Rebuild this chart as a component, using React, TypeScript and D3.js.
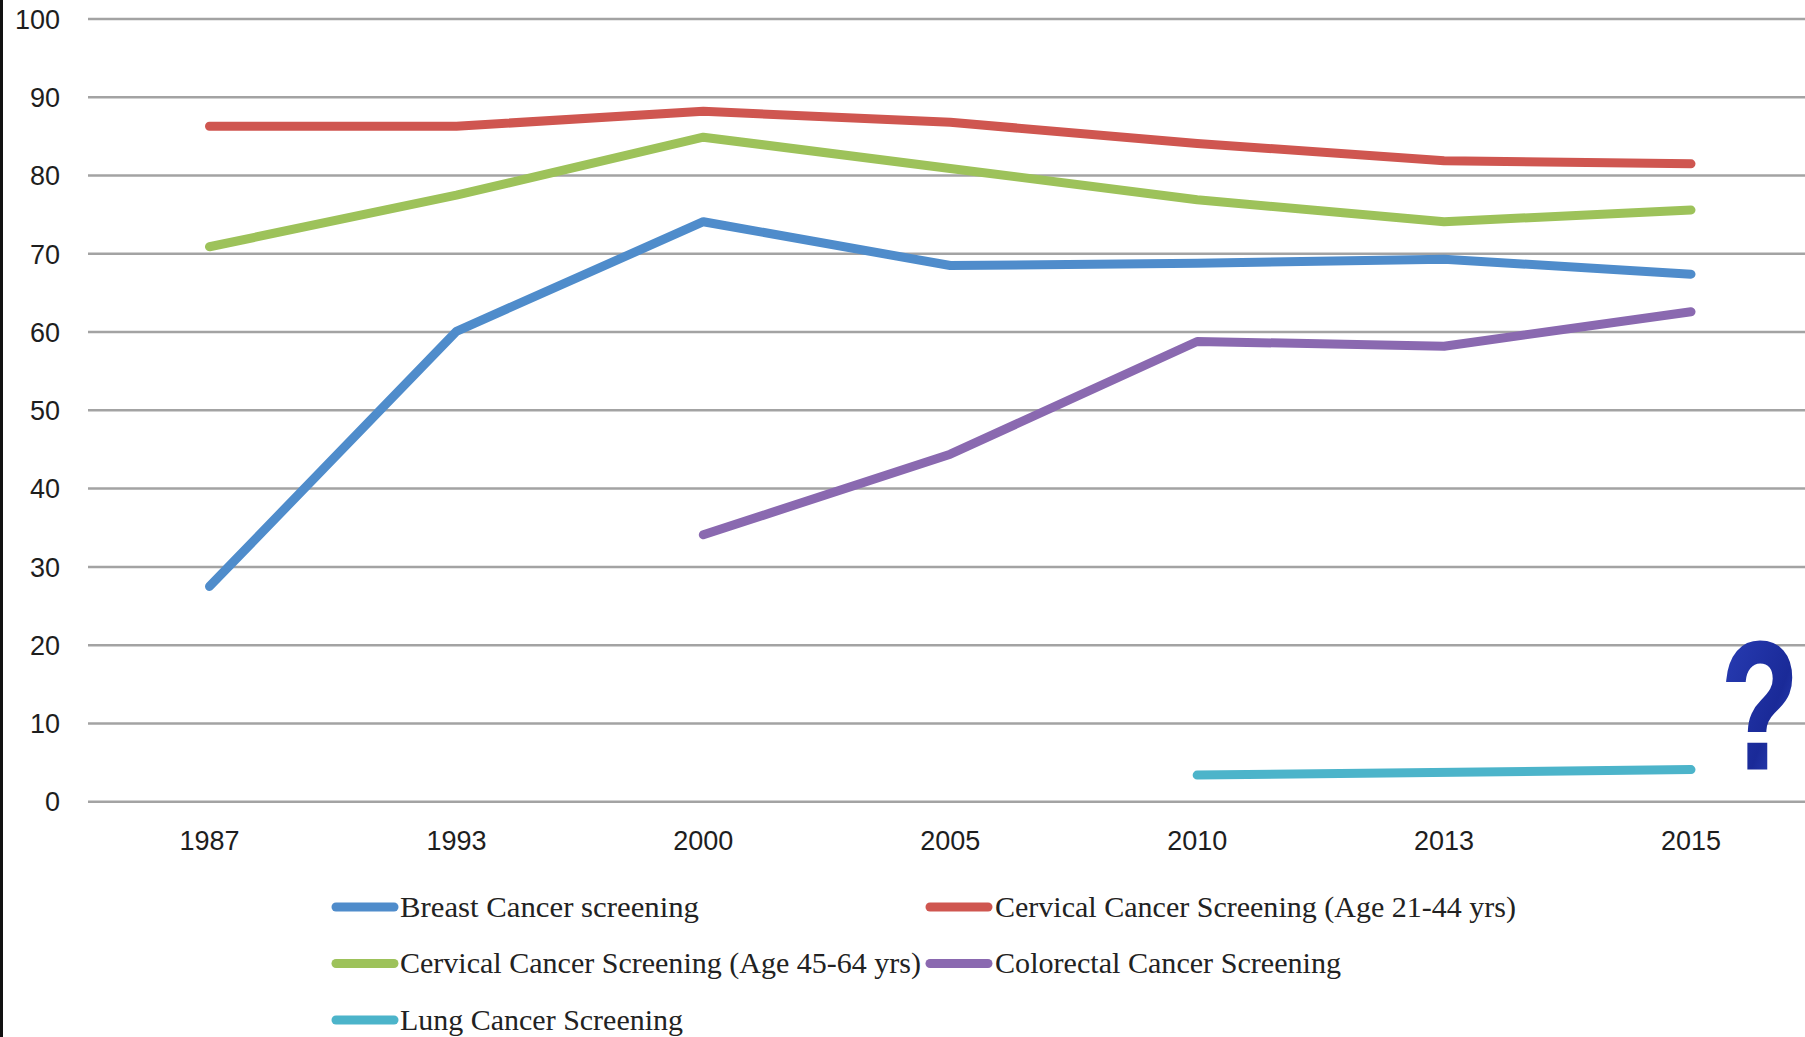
import React from "react";
import * as d3 from "d3";

const years = ["1987", "1993", "2000", "2005", "2010", "2013", "2015"];
const yTicks = [0, 10, 20, 30, 40, 50, 60, 70, 80, 90, 100];

const breast = [27.5, 60.1, 74.1, 68.5, 68.8, 69.3, 67.4];
const cervical2144 = [86.3, 86.3, 88.2, 86.8, 84.1, 81.9, 81.5];
const cervical4564 = [70.9, 77.5, 84.9, 80.9, 76.9, 74.1, 75.6];
const colorectal = [null, null, 34.1, 44.4, 58.8, 58.2, 62.6];
const lung = [null, null, null, null, 3.4, null, 4.1];

const seriesNames = [
  "Breast Cancer screening",
  "Cervical Cancer Screening (Age 21-44 yrs)",
  "Cervical Cancer Screening (Age 45-64 yrs)",
  "Colorectal Cancer Screening",
  "Lung Cancer Screening",
];
const seriesColors = ["#4f8ccb", "#cf5650", "#9dc25a", "#8a69b0", "#4cb4ca"];
const seriesValues = [breast, cervical2144, cervical4564, colorectal, lung];

const W = 1805;
const H = 1037;

export default function App() {
  const x = d3.scalePoint<string>().domain(years).range([209.5, 1691]);
  const y = d3.scaleLinear().domain([0, 100]).range([801.7, 19]);

  const line = d3
    .line<{ yr: string; v: number }>()
    .x((d) => x(d.yr) as number)
    .y((d) => y(d.v));

  const legendPos = [
    { lx: 336, tx: 400, y: 907, w: 299 },
    { lx: 930, tx: 995, y: 907, w: 521 },
    { lx: 336, tx: 400, y: 963.5, w: 521 },
    { lx: 930, tx: 995, y: 963.5, w: 346 },
    { lx: 336, tx: 400, y: 1020, w: 283 },
  ];

  return (
    <svg
      width={W}
      height={H}
      style={{ position: "absolute", left: 0, top: 0, background: "#fff" }}
    >
      <defs>
        <linearGradient id="qgrad" x1="0" y1="0" x2="1" y2="1">
          <stop offset="0%" stopColor="#2a3fb8" />
          <stop offset="60%" stopColor="#1a2a98" />
          <stop offset="100%" stopColor="#3a55d0" />
        </linearGradient>
      </defs>
      <rect x={0} y={0} width={W} height={H} fill="#fff" />
      <rect x={0} y={0} width={3} height={H} fill="#111" />
      {yTicks.map((t) => (
        <g key={t}>
          <line
            x1={88}
            x2={W}
            y1={y(t)}
            y2={y(t)}
            stroke="#a3a3a3"
            strokeWidth={2.5}
          />
          <text
            x={60}
            y={y(t)}
            dy="0.36em"
            textAnchor="end"
            fontFamily="Liberation Sans, Arial, sans-serif"
            fontSize={27}
            fill="#1e1e1e"
          >
            {t}
          </text>
        </g>
      ))}
      {years.map((yr) => (
        <text
          key={yr}
          x={x(yr)}
          y={840}
          dy="0.36em"
          textAnchor="middle"
          fontFamily="Liberation Sans, Arial, sans-serif"
          fontSize={27}
          fill="#1e1e1e"
        >
          {yr}
        </text>
      ))}
      {seriesValues.map((vals, i) => {
        const pts = vals
          .map((v, j) => ({ yr: years[j], v }))
          .filter((d) => d.v !== null) as { yr: string; v: number }[];
        return (
          <path
            key={i}
            d={line(pts) || ""}
            fill="none"
            stroke={seriesColors[i]}
            strokeWidth={9}
            strokeLinecap="round"
            strokeLinejoin="round"
          />
        );
      })}
      {seriesNames.map((name, i) => {
        const p = legendPos[i];
        return (
          <g key={name}>
            <line
              x1={p.lx}
              x2={p.lx + 58}
              y1={p.y}
              y2={p.y}
              stroke={seriesColors[i]}
              strokeWidth={9}
              strokeLinecap="round"
            />
            <text
              x={p.tx}
              y={p.y}
              dy="0.33em"
              fontFamily="Liberation Serif, Times New Roman, serif"
              fontSize={29}
              fill="#222"
              textLength={p.w}
              lengthAdjust="spacingAndGlyphs"
            >
              {name}
            </text>
          </g>
        );
      })}
      <g transform="translate(1760,768) scale(0.7,1)">
        <text
          x={0}
          y={0}
          textAnchor="middle"
          fontFamily="Liberation Sans, Arial, sans-serif"
          fontWeight="bold"
          fontSize={180}
          fill="url(#qgrad)"
          stroke="url(#qgrad)"
          strokeWidth={3}
        >
          ?
        </text>
      </g>
    </svg>
  );
}
